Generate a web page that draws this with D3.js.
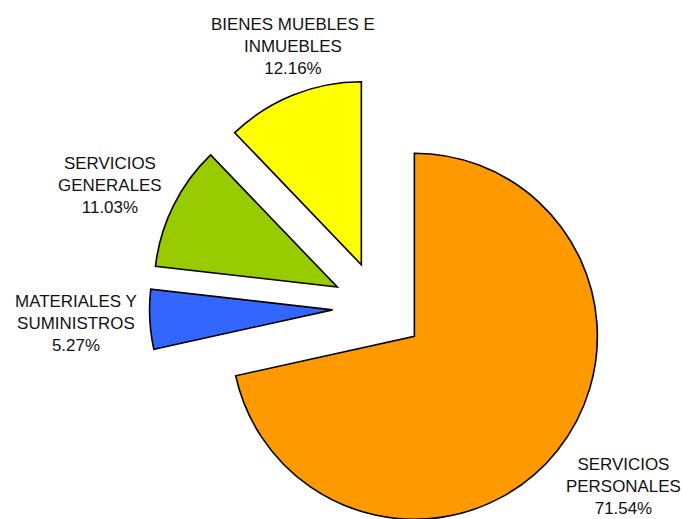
<!DOCTYPE html>
<html>
<head>
<meta charset="utf-8">
<script src="https://cdn.jsdelivr.net/npm/d3@7"></script>
<style>
  body { margin: 0; background: #fff; }
  text { font-family: "Liberation Sans", Arial, sans-serif; font-size: 16px; fill: #111; }
</style>
</head>
<body>
<svg id="vis" width="684" height="519"></svg>
<script>
// data (clockwise from 12 o'clock)
var categories = [
  ["SERVICIOS", "PERSONALES"],
  ["MATERIALES Y", "SUMINISTROS"],
  ["SERVICIOS", "GENERALES"],
  ["BIENES MUEBLES E", "INMUEBLES"]
];
var values = [71.54, 5.27, 11.03, 12.16];
var colors = ["#ff9900", "#3366ff", "#99cc00", "#ffff00"];

var svg = d3.select("#vis"),
    width = +svg.attr("width"),
    height = +svg.attr("height");

var cx = 378.5, cy = 307.5,
    radius = 183,
    explode = 46,      // every slice is pulled out along its bisector
    labelGap = 242,    // label boxes sit just outside this radius
    lineH = 22,
    stretch = 1.06;    // text in the original is a bit wide

// small hand nudges so the labels land where the original put them
var labelNudge = [[18, -4], [0, 0], [0, 11], [17, -6]];

var pie = d3.pie().sort(null).value(function(d) { return d; });
var arc = d3.arc().innerRadius(0).outerRadius(radius);
var arcs = pie(values);

function mid(d) { return (d.startAngle + d.endAngle) / 2; }

var g = svg.append("g").attr("transform", "translate(" + cx + "," + cy + ")");

g.selectAll("path")
  .data(arcs)
  .enter().append("path")
    .attr("d", arc)
    .attr("fill", function(d, i) { return colors[i]; })
    .attr("stroke", "#000")
    .attr("stroke-width", 1.6)
    .attr("stroke-linejoin", "miter")
    .attr("transform", function(d) {
      var a = mid(d);
      return "translate(" + (explode * Math.sin(a)) + "," + (-explode * Math.cos(a)) + ")";
    });

var labels = g.selectAll("g.label")
  .data(arcs)
  .enter().append("g")
    .attr("class", "label");

labels.each(function(d, i) {
  var lines = categories[i].concat([values[i].toFixed(2) + "%"]);
  var inner = d3.select(this).append("g");
  var t = inner.append("text").attr("text-anchor", "middle");
  lines.forEach(function(s, k) {
    t.append("tspan").attr("x", 0).attr("y", k * lineH).text(s);
  });
  inner.attr("transform", "scale(" + stretch + ",1)");

  var bb = t.node().getBBox();
  var w2 = bb.width * stretch / 2, h2 = bb.height / 2;
  var bx = (bb.x + bb.width / 2) * stretch, by = bb.y + bb.height / 2;
  var a = mid(d), ux = Math.sin(a), uy = -Math.cos(a);
  var dist = labelGap + Math.min(
    Math.abs(ux) > 1e-6 ? w2 / Math.abs(ux) : Infinity,
    Math.abs(uy) > 1e-6 ? h2 / Math.abs(uy) : Infinity);
  var n = labelNudge[i];
  d3.select(this).attr("transform",
    "translate(" + (dist * ux - bx + n[0]) + "," + (dist * uy - by + n[1]) + ")");
});
</script>
</body>
</html>
